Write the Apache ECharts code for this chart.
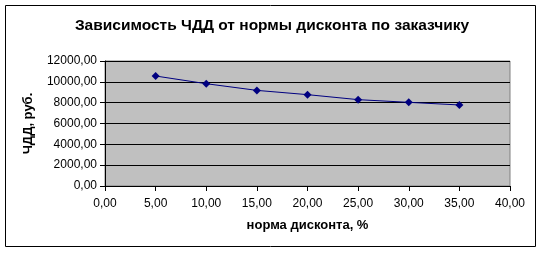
<!DOCTYPE html>
<html><head><meta charset="utf-8">
<script src="https://cdn.jsdelivr.net/npm/echarts@6/dist/echarts.min.js"></script>
<style>html,body{margin:0;padding:0;background:#fff}#c{width:544px;height:253px}</style>
</head><body><div id="c"></div>
<script>
const rates = [5, 10, 15, 20, 25, 30, 35];
const npv = [10560, 9820, 9180, 8770, 8290, 8030, 7780];
const titleText = 'Зависимость ЧДД от нормы дисконта по заказчику';
const xName = 'норма дисконта, %';
const yName = 'ЧДД, руб.';
const fmt = v => v.toFixed(2).replace('.', ',');
const font = 'Liberation Sans, Arial, sans-serif';
const chart = echarts.init(document.getElementById('c'));
chart.setOption({
  animation: false,
  title: { text: titleText, left: 'center', top: 13, textStyle: { fontFamily: font, fontSize: 15.5, fontWeight: 'bold', color: '#000' } },
  graphic: [{ type: 'rect', shape: { x: 5.5, y: 5.5, width: 530, height: 241 }, style: { fill: 'none', stroke: '#000', lineWidth: 1 }, z: 100 }],
  grid: { left: 105, top: 61, width: 405, height: 125, show: true, backgroundColor: '#c0c0c0', borderColor: '#808080', borderWidth: 1 },
  xAxis: {
    type: 'value', min: 0, max: 40, interval: 5,
    name: xName, nameLocation: 'middle', nameGap: 33,
    nameTextStyle: { fontFamily: font, fontSize: 13, fontWeight: 'bold', color: '#000' },
    axisLine: { show: true, onZero: false, lineStyle: { color: '#000' } },
    axisTick: { show: true, inside: false, length: 5, lineStyle: { color: '#000' } },
    axisLabel: { formatter: fmt, fontFamily: font, fontSize: 12, color: '#000', margin: 12 },
    splitLine: { show: false }
  },
  yAxis: {
    type: 'value', min: 0, max: 12000, interval: 2000,
    name: yName, nameLocation: 'middle', nameGap: 70,
    nameTextStyle: { fontFamily: font, fontSize: 13, fontWeight: 'bold', color: '#000' },
    axisLine: { show: true, lineStyle: { color: '#000' } },
    axisTick: { show: true, inside: false, length: 5, lineStyle: { color: '#000' } },
    axisLabel: { formatter: fmt, fontFamily: font, fontSize: 12, color: '#000', margin: 8 },
    splitLine: { show: true, lineStyle: { color: '#000', width: 1 } }
  },
  series: [{
    type: 'line', data: rates.map((r, i) => [r, npv[i]]),
    symbol: 'diamond', symbolSize: 8, showSymbol: true,
    lineStyle: { color: '#000080', width: 1 },
    itemStyle: { color: '#000080' }
  }]
});
</script></body></html>
